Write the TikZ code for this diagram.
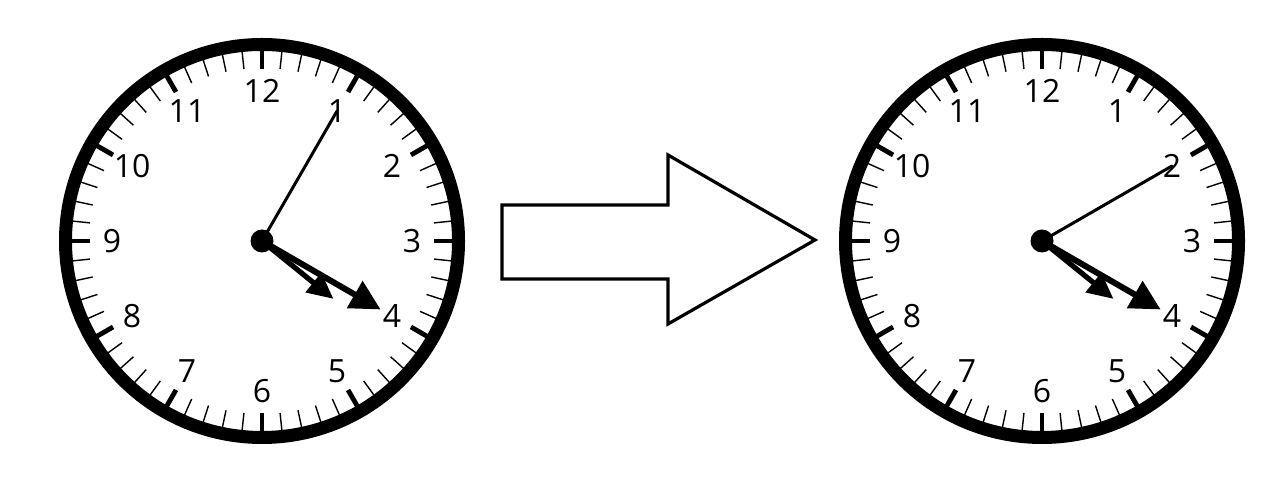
\documentclass[tikz,border=0pt]{standalone}
\usepackage{fontspec}
\setsansfont{Open Sans}
\usetikzlibrary{arrows.meta}

\begin{document}
\begin{tikzpicture}[
    x=0.5pt, y=0.5pt,
    % Define styles
    rim/.style={draw=black, line width=6.5pt},
    minutetick/.style={line width=0.7pt},
    hourtick/.style={line width=2.4pt},
    numeral/.style={font=\sffamily\fontsize{16}{16}\selectfont, inner sep=0pt},
    minutehand/.style={line width=1.5pt, line cap=round},
    hourhand/.style={line width=3pt, -{Triangle[length=15pt,width=15pt]}},
    shorthand/.style={line width=2.6pt, -{Triangle[length=13pt,width=12pt]}},
    pivot/.style={circle, fill=black, inner sep=0pt, minimum size=11.5pt},
    bigarrow/.style={draw=black, line width=1.6pt, fill=white, line join=miter}
]
\useasboundingbox (0,0) rectangle (1277,490);

% Clock faces
\foreach \cx/\mang/\cname in {262/60/left, 1042/30/right} {
  \begin{scope}[shift={(\cx,249)}]
    \draw[rim] (0,0) circle (196.5);
    % Minute and hour ticks
    \foreach \m in {0,...,59}
      \draw[minutetick] (\m*6:173) -- (\m*6:191);
    \foreach \h in {1,...,12} {
      \draw[hourtick] (90-\h*30:172) -- (90-\h*30:191);
      \node[numeral] (\cname-n\h) at (90-\h*30:150) {\h};
    }
    % Hands
    \node[pivot] (\cname-c) at (0,0) {};
    \coordinate (\cname-m) at (\mang:150);
    \coordinate (\cname-h) at (-30:137);
    \coordinate (\cname-s) at (-39:92);
    \draw[minutehand] (\cname-c.center) -- (\cname-m);
    \draw[shorthand] (\cname-c.center) -- (\cname-s);
    \draw[hourhand] (\cname-c.center) -- (\cname-h);
  \end{scope}
}

% Block arrow between the clocks
\draw[bigarrow] (502,285) -- (668,285) -- (668,335) -- (815,250)
    -- (668,166) -- (668,211) -- (502,211) -- cycle;

\end{tikzpicture}
\end{document}
